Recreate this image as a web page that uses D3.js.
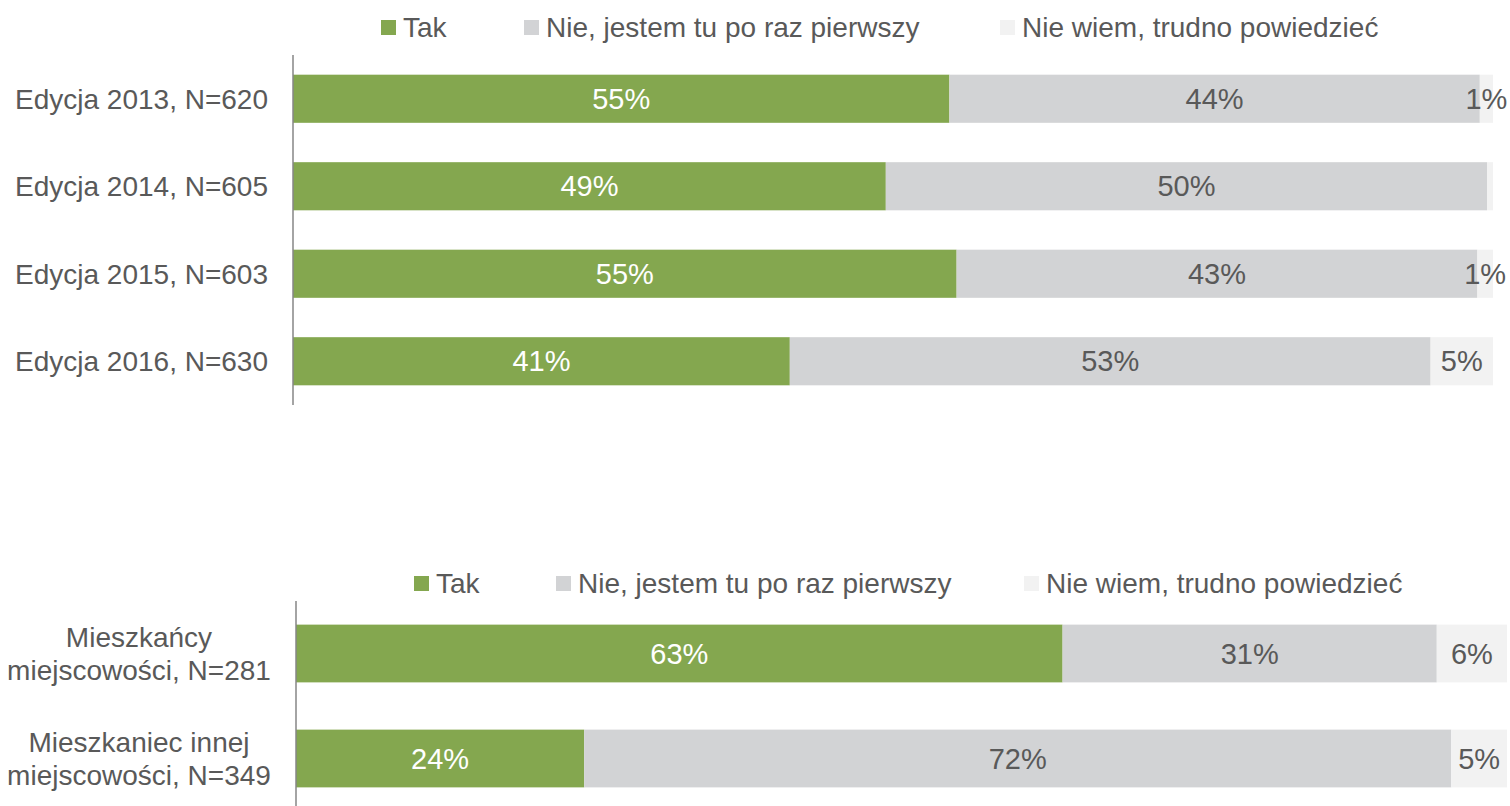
<!DOCTYPE html>
<html>
<head>
<meta charset="utf-8">
<script src="https://cdn.jsdelivr.net/npm/d3@7"></script>
<style>
  html, body { margin: 0; padding: 0; background: #fff; }
  svg { display: block; font-family: "Liberation Sans", Arial, sans-serif; }
</style>
</head>
<body>
<svg id="chart" width="1510" height="806"></svg>
<script>
// ---- Data ----
const seriesNames = ["Tak", "Nie, jestem tu po raz pierwszy", "Nie wiem, trudno powiedzieć"];
const seriesColors = ["#84A74F", "#D2D3D5", "#F2F2F2"];

const topCategories = ["Edycja 2013, N=620", "Edycja 2014, N=605", "Edycja 2015, N=603", "Edycja 2016, N=630"];
const topTak = [54.7, 49.4, 55.3, 41.4];
const topNie = [44.2, 50.1, 43.4, 53.4];
const topNieWiem = [1.1, 0.5, 1.3, 5.2];

const bottomCategories = [["Mieszkańcy", "miejscowości, N=281"], ["Mieszkaniec innej", "miejscowości, N=349"]];
const bottomTak = [63.3, 23.8];
const bottomNie = [30.9, 71.6];
const bottomNieWiem = [5.8, 4.6];

// ---- Drawing ----
const svg = d3.select("#chart");
const textColor = "#595959";
const fontSize = 28;
const valueFontSize = 29;

function drawChart(cfg) {
  const g = svg.append("g");
  const rows = cfg.categories.map((c, i) => ({
    key: i, cat: c,
    vals: [cfg.tak[i], cfg.nie[i], cfg.nieWiem[i]]
  }));
  const x = d3.scaleLinear().domain([0, 100]).range([cfg.x0, cfg.x1]);
  const y = d3.scaleBand().domain(rows.map(r => r.key)).range([cfg.y0, cfg.y1])
    .paddingInner(cfg.padInner).paddingOuter(cfg.padInner / 2);

  const stack = d3.stack().keys([0, 1, 2]).value((d, k) => d.vals[k]);
  const layers = stack(rows);

  layers.forEach((layer, si) => {
    const lg = g.append("g");
    lg.selectAll("rect").data(layer).join("rect")
      .attr("x", d => x(d[0]))
      .attr("y", d => y(d.data.key))
      .attr("width", d => x(d[1]) - x(d[0]))
      .attr("height", y.bandwidth())
      .attr("fill", seriesColors[si]);
    lg.selectAll("text").data(layer.filter(d => d.data.vals[si] >= 1)).join("text")
      .attr("x", d => (x(d[0]) + x(d[1])) / 2)
      .attr("y", d => y(d.data.key) + y.bandwidth() / 2)
      .attr("dy", "0.35em")
      .attr("text-anchor", "middle")
      .attr("font-size", valueFontSize)
      .attr("fill", si === 0 ? "#ffffff" : textColor)
      .text(d => Math.round(d.data.vals[si]) + "%");
  });

  // axis line (category axis without ticks)
  const axis = d3.axisLeft(y).tickSize(0).tickFormat("");
  const ag = g.append("g").attr("transform", `translate(${cfg.x0},0)`).call(axis);
  ag.select(".domain").attr("stroke", "#868686").attr("stroke-width", 1.5)
    .attr("d", `M0,${cfg.y0}V${cfg.axisEnd}`);

  // category labels
  rows.forEach(r => {
    const cy = y(r.key) + y.bandwidth() / 2;
    const lines = Array.isArray(r.cat) ? r.cat : [r.cat];
    const t = g.append("text")
      .attr("font-size", fontSize)
      .attr("fill", textColor)
      .attr("text-anchor", cfg.labelAnchor)
      .attr("x", cfg.labelX);
    const lh = 33;
    lines.forEach((ln, li) => {
      t.append("tspan").attr("x", cfg.labelX)
        .attr("y", cy + (li - (lines.length - 1) / 2) * lh)
        .attr("dy", "0.35em")
        .text(ln);
    });
  });

  // legend
  const leg = g.append("g");
  seriesNames.forEach((name, i) => {
    const lx = cfg.legendX[i];
    leg.append("rect").attr("x", lx).attr("y", cfg.legendY - 7).attr("width", 15).attr("height", 15)
      .attr("fill", seriesColors[i]);
    leg.append("text").attr("x", lx + 22).attr("y", cfg.legendY).attr("dy", "0.35em")
      .attr("font-size", fontSize).attr("fill", textColor).text(name);
  });
}

drawChart({
  categories: topCategories, tak: topTak, nie: topNie, nieWiem: topNieWiem,
  x0: 293, x1: 1493, y0: 55, y1: 405, axisEnd: 405, padInner: 0.45,
  labelX: 268, labelAnchor: "end",
  legendX: [381, 524, 1000], legendY: 27
});

drawChart({
  categories: bottomCategories, tak: bottomTak, nie: bottomNie, nieWiem: bottomNieWiem,
  x0: 296, x1: 1507, y0: 601, y1: 811, axisEnd: 806, padInner: 0.45,
  labelX: 139, labelAnchor: "middle",
  legendX: [414, 556, 1024], legendY: 583
});
</script>
</body>
</html>
